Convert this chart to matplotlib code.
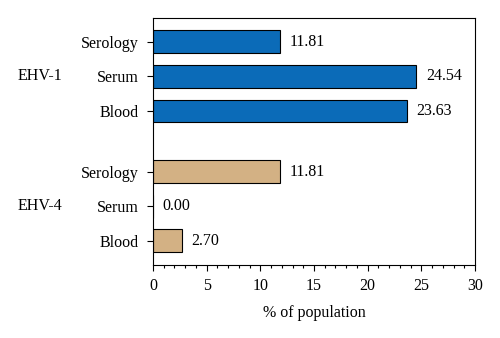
import matplotlib
matplotlib.use("Agg")
import matplotlib.pyplot as plt
from matplotlib.ticker import MultipleLocator

categories = ["Blood", "Serum", "Serology", "Blood", "Serum", "Serology"]
groups = ["EHV-4", "EHV-1"]
ehv4_values = [2.70, 0.00, 11.81]
ehv1_values = [23.63, 24.54, 11.81]
xticks = [0, 5, 10, 15, 20, 25, 30]

plt.rcParams['font.family'] = ['Liberation Serif', 'DejaVu Serif']
fs = 11.5
fig = plt.figure(figsize=(5.0, 3.38), dpi=100)
ax = fig.add_axes([153/500, 1-265/338, (475-153)/500, (265-18)/338])

pos4 = [0, 1, 2]
pos1 = [3.75, 4.75, 5.75]
h = 0.66
ax.barh(pos4, ehv4_values, height=h, color="#d3b184", edgecolor="black", linewidth=0.8)
ax.barh(pos1, ehv1_values, height=h, color="#0b6bb8", edgecolor="black", linewidth=0.8)

for p, v in zip(pos4 + pos1, ehv4_values + ehv1_values):
    ax.annotate(f"{v:.2f}", (v, p), xytext=(7, 0), textcoords="offset points",
                va="center", ha="left", fontsize=fs)

ax.set_yticks(pos4 + pos1)
ax.set_yticklabels(categories, fontsize=fs)
ax.set_ylim(-0.7, 6.44)
ax.set_xlim(0, 30)
ax.set_xticks(xticks)
ax.set_xticklabels([str(t) for t in xticks], fontsize=fs)
ax.xaxis.set_minor_locator(MultipleLocator(1))
ax.tick_params(axis="both", direction="out", length=4, width=0.8)
ax.tick_params(axis="x", which="minor", direction="out", length=2.5, width=0.8)
ax.tick_params(axis="y", pad=6)
ax.tick_params(axis="x", pad=5)
for s in ax.spines.values():
    s.set_linewidth(0.8)
ax.set_xlabel("% of population", fontsize=fs, labelpad=8)

ax.text(-0.42, 4.75, groups[1], transform=ax.get_yaxis_transform(), fontsize=fs,
        ha="left", va="center")
ax.text(-0.42, 1, groups[0], transform=ax.get_yaxis_transform(), fontsize=fs,
        ha="left", va="center")

fig.savefig("out.png", dpi=100)
